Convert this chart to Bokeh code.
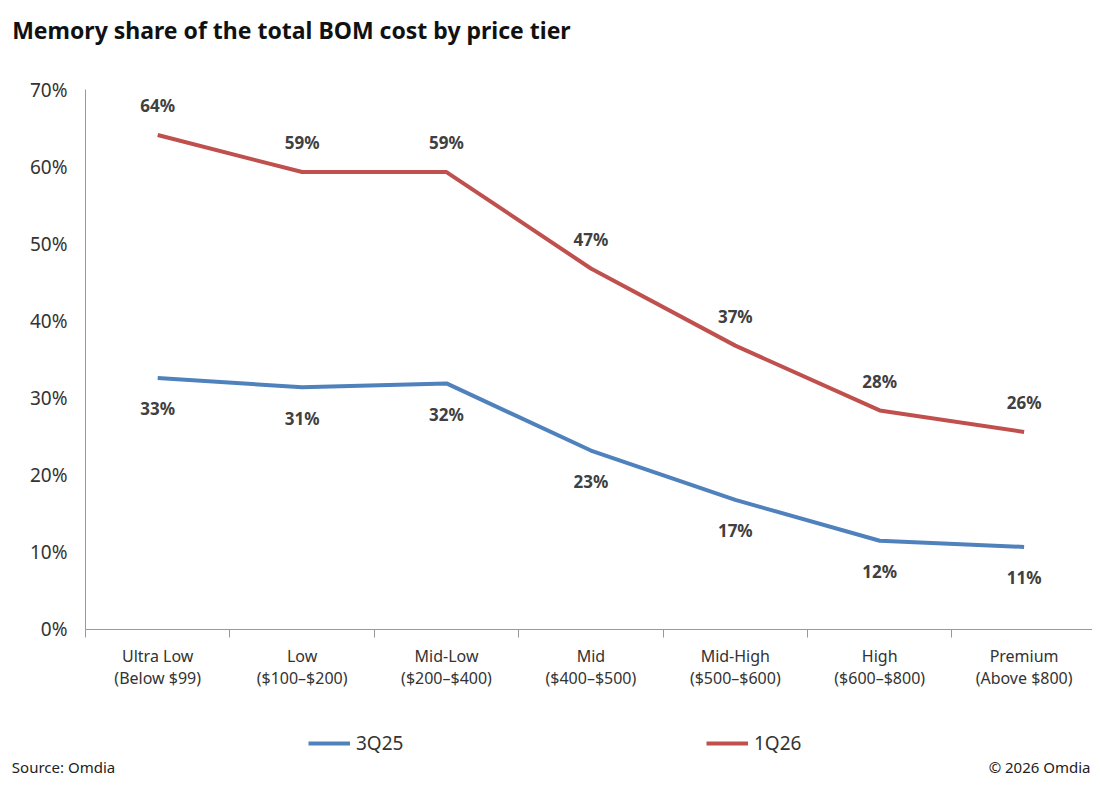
from bokeh.plotting import figure
from bokeh.models import Label, Range1d, FixedTicker, Legend, LegendItem, CustomJSTickFormatter, LinearAxis
from bokeh.embed import file_html
from bokeh.resources import INLINE

categories = ["Ultra Low\n(Below $99)", "Low\n($100–$200)", "Mid-Low\n($200–$400)", "Mid\n($400–$500)",
              "Mid-High\n($500–$600)", "High\n($600–$800)", "Premium\n(Above $800)"]
s3q25 = [32.6, 31.4, 31.9, 23.2, 16.8, 11.5, 10.7]
s1q26 = [64.1, 59.3, 59.3, 46.8, 36.8, 28.4, 25.6]
yticks = [0, 10, 20, 30, 40, 50, 60, 70]

FONT = "Noto Sans"
PXX = 144.4
PXY = 7.714
W = 1092
p = figure(width=W, height=790, output_backend="svg", toolbar_location=None,
           x_range=Range1d(-85 / PXX, (W - 85) / PXX), y_range=Range1d(-(790 - 629) / PXY, 70 + 89 / PXY),
           min_border=0, x_axis_type=None, y_axis_type=None)
p.outline_line_color = None
p.grid.visible = False

xa = LinearAxis(fixed_location=0, bounds=(0, 7), ticker=FixedTicker(ticks=list(range(8))),
                major_label_text_font_size="0px", major_tick_out=8, major_tick_in=0,
                minor_tick_line_color=None, axis_line_color="#999999", major_tick_line_color="#999999")
ya = LinearAxis(fixed_location=0, bounds=(0, 70), ticker=FixedTicker(ticks=yticks),
                formatter=CustomJSTickFormatter(code="return tick + '%';"),
                major_tick_out=0, major_tick_in=0, minor_tick_line_color=None, axis_line_color="#999999",
                major_label_text_font=FONT, major_label_text_font_size="19px",
                major_label_text_color="#333333", major_label_standoff=18)
p.add_layout(xa, "below")
p.add_layout(ya, "left")

xs = [i + 0.5 for i in range(len(categories))]
r1 = p.line(xs, s3q25, line_color="#4F81BD", line_width=4)
r2 = p.line(xs, s1q26, line_color="#C0504D", line_width=4)

for x, v in zip(xs, s1q26):
    p.add_layout(Label(x=x, y=v + 3.8, text=f"{round(v)}%", text_align="center", text_baseline="middle",
                       text_font=FONT, text_font_style="bold", text_font_size="17px", text_color="#404040"))
for x, v in zip(xs, s3q25):
    p.add_layout(Label(x=x, y=v - 4.0, text=f"{round(v)}%", text_align="center", text_baseline="middle",
                       text_font=FONT, text_font_style="bold", text_font_size="17px", text_color="#404040"))
for x, c in zip(xs, categories):
    p.add_layout(Label(x=x, y=-2.0, text=c, text_align="center", text_baseline="top",
                       text_font=FONT, text_font_size="16px", text_color="#333333", text_line_height=1.0))

p.add_layout(Label(x=-0.508, y=77.65, text="Memory share of the total BOM cost by price tier", text_align="left",
                   text_baseline="middle", text_font=FONT, text_font_style="bold", text_font_size="23px",
                   text_color="#111111"))
p.add_layout(Label(x=-0.51, y=-17.76, text="Source: Omdia", text_align="left", text_baseline="middle",
                   text_font=FONT, text_font_size="15px", text_color="#222222"))
p.add_layout(Label(x=(W - 85 - 2) / PXX, y=-17.76, text="© 2026 Omdia", text_align="right", text_baseline="middle",
                   text_font=FONT, text_font_size="15px", text_color="#222222"))

for r, name, lx in [(r1, "3Q25", 308), (r2, "1Q26", 706)]:
    lg = Legend(items=[LegendItem(label=name, renderers=[r])], location=(lx, 34),
                orientation="horizontal", background_fill_alpha=0, border_line_color=None,
                glyph_width=42, label_text_font=FONT, label_text_font_size="19px",
                label_text_color="#333333", padding=0, margin=0, label_standoff=6)
    p.add_layout(lg, "center")

open("out.html", "w").write(file_html(p, INLINE))
